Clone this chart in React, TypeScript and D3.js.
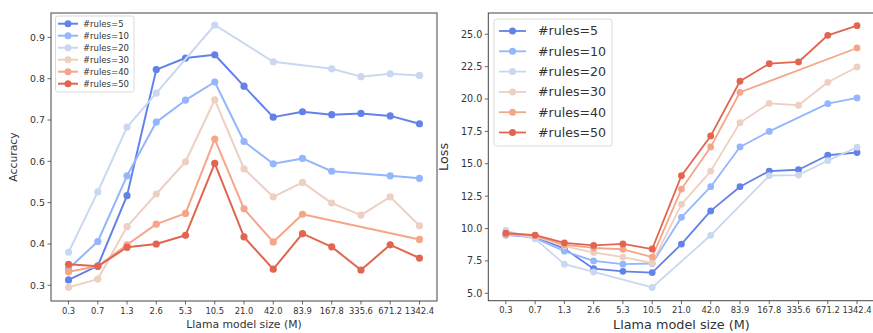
import React from "react";
import * as d3 from "d3";

const sizes = ["0.3", "0.7", "1.3", "2.6", "5.3", "10.5", "21.0", "42.0", "83.9", "167.8", "335.6", "671.2", "1342.4"];
const seriesNames = ["#rules=5", "#rules=10", "#rules=20", "#rules=30", "#rules=40", "#rules=50"];
const seriesColors = ["#6282ea", "#94b6fd", "#c9d8f0", "#edd0c1", "#f6a688", "#e1654f"];

type V = number | null;
const acc5: V[] = [0.313, 0.347, 0.517, 0.822, 0.850, 0.858, 0.782, 0.707, 0.720, 0.713, 0.716, 0.710, 0.691];
const acc10: V[] = [0.340, 0.406, 0.565, 0.695, 0.748, 0.792, 0.648, 0.594, 0.607, 0.576, null, 0.565, 0.559];
const acc20: V[] = [0.380, 0.526, 0.683, 0.765, null, 0.930, null, 0.841, null, 0.824, 0.805, 0.812, 0.808];
const acc30: V[] = [0.295, 0.315, 0.442, 0.521, 0.599, 0.749, 0.582, 0.514, 0.549, 0.499, 0.470, 0.514, 0.444];
const acc40: V[] = [0.333, 0.346, 0.398, 0.448, 0.474, 0.654, 0.485, 0.405, 0.472, null, null, null, 0.411];
const acc50: V[] = [0.351, 0.346, 0.392, 0.400, 0.421, 0.595, 0.417, 0.339, 0.425, 0.393, 0.337, 0.398, 0.366];

const loss5: V[] = [9.5, 9.35, 8.45, 6.9, 6.7, 6.6, 8.8, 11.36, 13.23, 14.44, 14.54, 15.66, 15.87];
const loss10: V[] = [9.6, 9.25, 8.25, 7.5, 7.25, 7.3, 10.87, 13.23, 16.3, 17.5, null, 19.64, 20.08];
const loss20: V[] = [9.85, 9.2, 7.25, 6.65, null, 5.45, null, 9.48, null, 14.08, 14.13, 15.24, 16.28];
const loss30: V[] = [9.55, 9.4, 8.65, 8.15, 7.8, 7.34, 11.87, 14.44, 18.17, 19.67, 19.52, 21.29, 22.47];
const loss40: V[] = [9.55, 9.45, 8.75, 8.5, 8.4, 7.8, 13.05, 16.3, 20.52, null, null, null, 23.94];
const loss50: V[] = [9.65, 9.5, 8.9, 8.7, 8.81, 8.42, 14.08, 17.15, 21.37, 22.73, 22.86, 24.92, 25.66];

const accTicks = [0.3, 0.4, 0.5, 0.6, 0.7, 0.8, 0.9];
const lossTicks = [5.0, 7.5, 10.0, 12.5, 15.0, 17.5, 20.0, 22.5, 25.0];

const accSeries = [acc5, acc10, acc20, acc30, acc40, acc50];
const lossSeries = [loss5, loss10, loss20, loss30, loss40, loss50];

const FONT = "DejaVu Sans, Liberation Sans, sans-serif";

type PanelProps = {
  series: V[][];
  x0: number; x1: number; y0: number; y1: number;
  yDomain: [number, number];
  yTicks: number[];
  yFmt: (v: number) => string;
  yLabel: string;
  yLabelX: number;
  yLabelSize: number;
  yTickSize: number;
  xTickSize: number;
  xLabelSize: number;
  xLabelY: number;
  legend: { x: number; y: number; w: number; h: number; firstY: number; step: number; hx0: number; hx1: number; tx: number; fs: number; r: number };
  r: number;
  lw: number;
};

function Panel(p: PanelProps) {
  const x = d3.scaleLinear().domain([-0.6, sizes.length - 1 + 0.6]).range([p.x0, p.x1]);
  const y = d3.scaleLinear().domain(p.yDomain).range([p.y1, p.y0]);
  const line = d3.line<[number, number]>().x((d) => x(d[0])).y((d) => y(d[1]));
  const L = p.legend;
  return (
    <g>
      {p.series.map((s, si) => {
        const pts: [number, number][] = [];
        s.forEach((v, i) => { if (v !== null) pts.push([i, v]); });
        return (
          <g key={si}>
            <path d={line(pts) || ""} fill="none" stroke={seriesColors[si]} strokeWidth={p.lw} strokeLinejoin="round" />
            {pts.map((d, k) => (
              <circle key={k} cx={x(d[0])} cy={y(d[1])} r={p.r} fill={seriesColors[si]} />
            ))}
          </g>
        );
      })}
      <rect x={p.x0} y={p.y0} width={p.x1 - p.x0} height={p.y1 - p.y0} fill="none" stroke="#444" strokeWidth={1} />
      {p.yTicks.map((t) => (
        <g key={t}>
          <line x1={p.x0 - 3.5} x2={p.x0} y1={y(t)} y2={y(t)} stroke="#444" strokeWidth={0.8} />
          <text x={p.x0 - 6} y={y(t)} dy="0.35em" textAnchor="end" fontSize={p.yTickSize} fill="#333" fontFamily={FONT}>{p.yFmt(t)}</text>
        </g>
      ))}
      {sizes.map((s, i) => (
        <g key={s}>
          <line x1={x(i)} x2={x(i)} y1={p.y1} y2={p.y1 + 3.5} stroke="#444" strokeWidth={0.8} />
          <text x={x(i)} y={p.y1 + 6} dy="0.8em" textAnchor="middle" fontSize={p.xTickSize} fill="#333" fontFamily={FONT}>{s}</text>
        </g>
      ))}
      <text x={(p.x0 + p.x1) / 2} y={p.xLabelY} textAnchor="middle" fontSize={p.xLabelSize} fill="#333" fontFamily={FONT}>Llama model size (M)</text>
      <text transform={`translate(${p.yLabelX},${(p.y0 + p.y1) / 2}) rotate(-90)`} textAnchor="middle" fontSize={p.yLabelSize} fill="#333" fontFamily={FONT}>{p.yLabel}</text>
      <rect x={L.x} y={L.y} width={L.w} height={L.h} rx={2.5} fill="white" fillOpacity={0.8} stroke="#d0d0d0" strokeWidth={0.8} />
      {seriesNames.map((n, i) => {
        const ly = L.firstY + i * L.step;
        return (
          <g key={n}>
            <line x1={L.hx0} x2={L.hx1} y1={ly} y2={ly} stroke={seriesColors[i]} strokeWidth={p.lw} />
            <circle cx={(L.hx0 + L.hx1) / 2} cy={ly} r={L.r} fill={seriesColors[i]} />
            <text x={L.tx} y={ly} dy="0.35em" fontSize={L.fs} fill="#333" fontFamily={FONT}>{n}</text>
          </g>
        );
      })}
    </g>
  );
}

export default function App() {
  return (
    <svg width={873} height={333} style={{ position: "absolute", left: 0, top: 0, background: "white" }}>
      <Panel
        series={accSeries}
        x0={51} x1={437} y0={13} y1={301}
        yDomain={[0.262, 0.959]}
        yTicks={accTicks}
        yFmt={(v) => v.toFixed(1)}
        yLabel="Accuracy"
        yLabelX={17}
        yLabelSize={10.8}
        yTickSize={9.4}
        xTickSize={8.4}
        xLabelSize={10.8}
        xLabelY={328}
        legend={{ x: 55.5, y: 16, w: 78.5, h: 76, firstY: 23.7, step: 12, hx0: 58, hx1: 78, tx: 83, fs: 8.5, r: 3.5 }}
        r={3.6}
        lw={2}
      />
      <Panel
        series={lossSeries}
        x0={488.3} x1={874.6} y0={13} y1={300.7}
        yDomain={[4.43, 26.64]}
        yTicks={lossTicks}
        yFmt={(v) => v.toFixed(1)}
        yLabel="Loss"
        yLabelX={448}
        yLabelSize={12.8}
        yTickSize={9.6}
        xTickSize={8.4}
        xLabelSize={12.8}
        xLabelY={329}
        legend={{ x: 494, y: 19, w: 118, h: 127, firstY: 31, step: 20.3, hx0: 499, hx1: 526, tx: 538, fs: 12.6, r: 3.5 }}
        r={3.4}
        lw={1.8}
      />
    </svg>
  );
}
